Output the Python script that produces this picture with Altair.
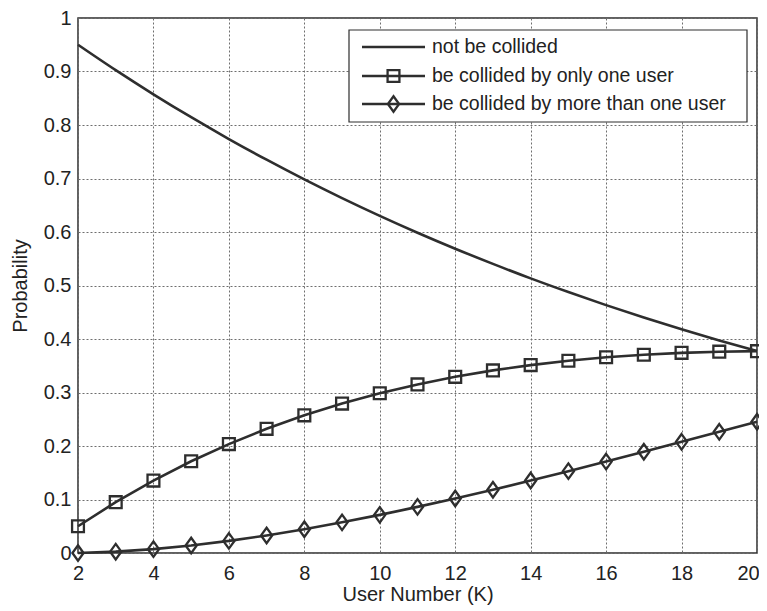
import altair as alt
import pandas as pd

K = list(range(2, 21))
not_collided = [0.950, 0.9025, 0.8574, 0.8145, 0.7738, 0.7351, 0.6983, 0.6634, 0.6302,
                0.5987, 0.5688, 0.5404, 0.5133, 0.4877, 0.4633, 0.4401, 0.4181, 0.3972, 0.3774]
one_user = [0.050, 0.095, 0.1354, 0.1715, 0.2036, 0.2321, 0.2573, 0.2793, 0.2985,
            0.3151, 0.3293, 0.3413, 0.3512, 0.3593, 0.3658, 0.3706, 0.3741, 0.3763, 0.3773]
more_users = [0.000, 0.0025, 0.0072, 0.0140, 0.0226, 0.0328, 0.0444, 0.0573, 0.0713,
              0.0862, 0.1019, 0.1183, 0.1355, 0.1530, 0.1709, 0.1893, 0.2078, 0.2265, 0.2453]
labels = ["not be collided", "be collided by only one user", "be collided by more than one user"]
x_ticks = list(range(2, 21, 2))
y_ticks = [round(i * 0.1, 1) for i in range(11)]

series = [not_collided, one_user, more_users]
df = pd.DataFrame([
    {"K": k, "p": v, "s": lab}
    for lab, vals in zip(labels, series)
    for k, v in zip(K, vals)
])

INK = "#2e2e2e"
FONT = "Liberation Sans"
SQUARE = "M-1,-1H1V1H-1Z"
DIAMOND = "M0,-1L0.72,0L0,1L-0.72,0Z"
SQ_SIZE = 140
DI_SIZE = 240

xenc = alt.X("K:Q", scale=alt.Scale(domain=[2, 20], nice=False),
             axis=alt.Axis(values=x_ticks, title="User Number (K)", titleBaseline="alphabetic",
                           titleY=47, labelPadding=10,
                           labelOffset={"expr": "datum.value == 20 ? -9 : 0"}))
yenc = alt.Y("p:Q", scale=alt.Scale(domain=[0, 1], nice=False),
             axis=alt.Axis(values=y_ticks, format=".1~f", title="Probability",
                           titleBaseline="alphabetic", titleX=-52, labelPadding=7))

base = alt.Chart(df)
line1 = base.transform_filter(alt.datum.s == labels[0]).mark_line(
    color=INK, strokeWidth=2.6, interpolate="monotone").encode(x=xenc, y=yenc)
line2 = base.transform_filter(alt.datum.s == labels[1]).mark_line(
    color=INK, strokeWidth=2.6).encode(x=xenc, y=yenc)
pts2 = base.transform_filter(alt.datum.s == labels[1]).mark_point(
    shape=SQUARE, size=SQ_SIZE, filled=False, color=INK, strokeWidth=2.3, opacity=1).encode(x=xenc, y=yenc)
line3 = base.transform_filter(alt.datum.s == labels[2]).mark_line(
    color=INK, strokeWidth=2.6).encode(x=xenc, y=yenc)
pts3 = base.transform_filter(alt.datum.s == labels[2]).mark_point(
    shape=DIAMOND, size=DI_SIZE, filled=False, color=INK, strokeWidth=2.3, opacity=1).encode(x=xenc, y=yenc)

one = pd.DataFrame({"a": [0]})
leg_box = alt.Chart(one).mark_rect(fill="white", stroke=INK, strokeWidth=1.2).encode(
    x=alt.value(271), x2=alt.value(669), y=alt.value(12), y2=alt.value(104))
legend_layers = [leg_box]
row_y = [29, 58, 86]
shapes = [None, SQUARE, DIAMOND]
sizes = [0, SQ_SIZE, DI_SIZE]
for lab, ry, shp, sz in zip(labels, row_y, shapes, sizes):
    legend_layers.append(alt.Chart(one).mark_rule(color=INK, strokeWidth=2.6).encode(
        x=alt.value(284), x2=alt.value(347), y=alt.value(ry)))
    if shp:
        legend_layers.append(alt.Chart(one).mark_point(
            shape=shp, size=sz, filled=False, color=INK, strokeWidth=2.3, opacity=1).encode(
            x=alt.value(315.5), y=alt.value(ry)))
    legend_layers.append(alt.Chart(one).mark_text(
        text=lab, align="left", baseline="middle", font=FONT, fontSize=19.5, color="#222222").encode(
        x=alt.value(354), y=alt.value(ry)))

chart = alt.layer(line1, line2, pts2, line3, pts3, *legend_layers).properties(
    width=679, height=535,
    autosize=alt.AutoSizeParams(type="none"),
    padding={"left": 70, "top": 10, "right": 2, "bottom": 52},
    background="white",
).configure_view(
    stroke=INK, strokeWidth=1.5
).configure_axis(
    domain=False, ticks=False, tickSize=0,
    grid=True, gridColor="#6e6e6e", gridDash=[2, 2], gridWidth=1,
    labelFont=FONT, labelFontSize=20, labelColor="#222222",
    titleFont=FONT, titleFontSize=20, titleFontWeight="normal", titleColor="#222222",
    labelOverlap=False, labelFlush=False,
)

chart.save("out.html", embed_options={"renderer": "svg", "actions": False})
